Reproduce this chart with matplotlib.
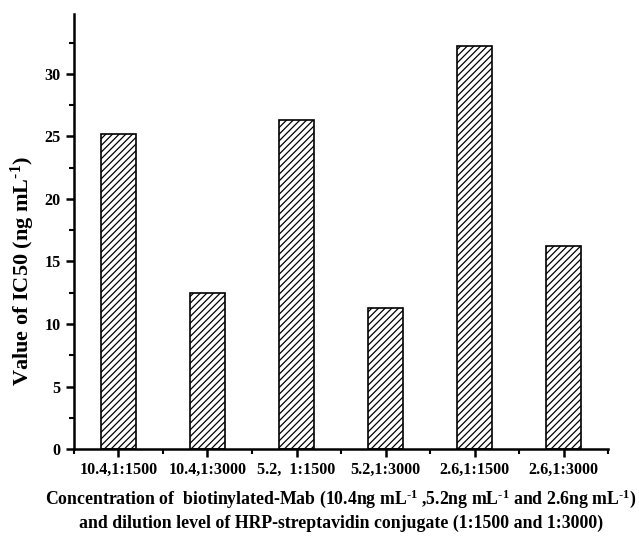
import matplotlib.pyplot as plt
from matplotlib.ticker import MultipleLocator

plt.rcParams['font.family'] = 'Liberation Serif'
plt.rcParams['font.weight'] = 'bold'
plt.rcParams['mathtext.fontset'] = 'custom'
plt.rcParams['mathtext.rm'] = 'Liberation Serif:bold'
plt.rcParams['mathtext.it'] = 'Liberation Serif:bold'
plt.rcParams['mathtext.bf'] = 'Liberation Serif:bold'
plt.rcParams['hatch.linewidth'] = 0.9

categories = ['10.4,1:1500', '10.4,1:3000', '5.2,  1:1500',
              '5.2,1:3000', '2.6,1:1500', '2.6,1:3000']
ic50 = [25.2, 12.5, 26.3, 11.3, 32.2, 16.2]

fig = plt.figure(figsize=(6.39, 5.36), dpi=100)
ax = fig.add_axes([0.1158, 0.1623, 0.8357, 0.8116])

pos = list(range(1, len(categories) + 1))
ax.bar(pos, ic50, width=0.4, color='white', edgecolor='black',
       linewidth=1.2, hatch='/////')

ax.set_xlim(0.5, 6.5)
ax.set_ylim(0, 34.8)
ax.set_xticks(pos)
ax.set_xticklabels(categories)
ax.xaxis.set_minor_locator(MultipleLocator(1.0, offset=0.5))
ax.yaxis.set_major_locator(MultipleLocator(5))
ax.yaxis.set_minor_locator(MultipleLocator(2.5))

for s in ['top', 'right']:
    ax.spines[s].set_visible(False)
for s in ['left', 'bottom']:
    ax.spines[s].set_linewidth(1.8)

ax.tick_params(which='major', direction='out', length=6, width=1.8,
               labelsize=11.6)
ax.tick_params(which='minor', direction='out', length=3.5, width=1.5)

sup = r'$^{\text{-}1}$'
ax.set_ylabel('Value of IC50 (ng mL' + sup + ')', fontsize=16,
              fontweight='bold')
ax.yaxis.set_label_coords(-0.07, 0.41)
ax.set_xlabel('Concentration of  biotinylated-Mab (10.4ng mL' + sup +
              ' ,5.2ng mL' + sup + ' and 2.6ng mL' + sup + ')\n'
              'and dilution level of HRP-streptavidin conjugate (1:1500 and 1:3000)',
              fontsize=12.8, fontweight='bold', labelpad=7, linespacing=1.3)

fig.savefig('out.png', dpi=100)
